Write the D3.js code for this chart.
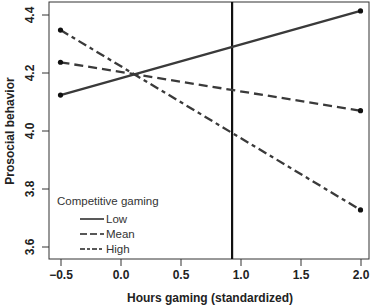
<!DOCTYPE html>
<html>
<head>
<meta charset="utf-8">
<script src="https://cdn.jsdelivr.net/npm/d3@7"></script>
<style>
	body { margin: 0; background: #fff; }
	text { font-family: "Liberation Sans", Arial, sans-serif; }
</style>
</head>
<body>
<svg id="chart"></svg>
<script>
// values
var groups = ['Low', 'Mean', 'High'];
var hours = [-0.5, 2.0];
var lowVals = [4.124, 4.414];
var meanVals = [4.237, 4.070];
var highVals = [4.348, 3.728];
var xTicks = [-0.5, 0.0, 0.5, 1.0, 1.5, 2.0];
var yTicks = [3.6, 3.8, 4.0, 4.2, 4.4];
var cutoff = 0.93;

function makeChart() {
	let w = 374;
	let h = 306;
	let left = 49, right = 369, top = 2, bottom = 259;

	let chart = d3.select('#chart')
		.attr('width', w)
		.attr('height', h);

	let x = d3.scaleLinear().domain([-0.5, 2.0]).range([60.5, 360.5]);
	let y = d3.scaleLinear().domain([3.6, 4.4]).range([247, 15]);

	var dashes = { Low: null, Mean: '9,5', High: '9,4,4,4' };
	var series = [
		{ name: 'Low', vals: lowVals },
		{ name: 'Mean', vals: meanVals },
		{ name: 'High', vals: highVals }
	];

	// box
	chart.append('rect')
		.attr('x', left)
		.attr('y', top)
		.attr('width', right - left)
		.attr('height', bottom - top)
		.style('fill', 'none')
		.style('stroke', '#333')
		.style('stroke-width', 1);

	// x axis
	let xAxis = chart.append('g')
		.attr('transform', 'translate(0,' + bottom + ')')
		.call(d3.axisBottom(x).tickValues(xTicks).tickFormat(d3.format('.1f')).tickSize(7).tickPadding(4));
	xAxis.select('.domain').remove();
	xAxis.selectAll('line').style('stroke', '#333');
	xAxis.selectAll('text')
		.style('font-size', '12px')
		.style('font-weight', 'bold')
		.style('fill', '#222');

	// y axis
	let yAxis = chart.append('g')
		.attr('transform', 'translate(' + left + ',0)')
		.call(d3.axisLeft(y).tickValues(yTicks).tickFormat(d3.format('.1f')).tickSize(7).tickPadding(4));
	yAxis.select('.domain').remove();
	yAxis.selectAll('line').style('stroke', '#333');
	yAxis.selectAll('text')
		.attr('x', null)
		.attr('dy', null)
		.attr('text-anchor', 'middle')
		.attr('transform', d => 'translate(-19,' + y(d) + ') rotate(-90)')
		.attr('y', 4)
		.style('font-size', '12px')
		.style('font-weight', 'bold')
		.style('fill', '#222');
	yAxis.selectAll('.tick').attr('transform', null);
	yAxis.selectAll('.tick line')
		.attr('y1', d => y(d))
		.attr('y2', d => y(d));

	// vertical reference line
	chart.append('line')
		.attr('x1', x(cutoff))
		.attr('x2', x(cutoff))
		.attr('y1', top)
		.attr('y2', bottom)
		.style('stroke', '#111')
		.style('stroke-width', 2.2);

	let line = d3.line()
		.x((d, i) => x(hours[i]))
		.y(d => y(d));

	chart.selectAll('.series')
		.data(series)
		.enter()
		.append('path')
		.classed('series', true)
		.attr('d', d => line(d.vals))
		.style('fill', 'none')
		.style('stroke', '#3a3a3a')
		.style('stroke-width', 2.3)
		.style('stroke-dasharray', d => dashes[d.name]);

	series.forEach(s => {
		chart.selectAll(null)
			.data(s.vals)
			.enter()
			.append('circle')
			.attr('cx', (d, i) => x(hours[i]))
			.attr('cy', d => y(d))
			.attr('r', 2.6)
			.style('fill', '#111');
	});

	// legend
	chart.append('text')
		.attr('x', 57)
		.attr('y', 205)
		.text('Competitive gaming')
		.style('font-size', '11.5px')
		.style('fill', '#333');

	let legend = chart.selectAll('.leg')
		.data(groups)
		.enter()
		.append('g')
		.attr('transform', (d, i) => 'translate(0,' + (219 + i * 15) + ')');
	legend.append('line')
		.attr('x1', 80)
		.attr('x2', 104)
		.style('stroke', '#222')
		.style('stroke-width', 1.5)
		.style('stroke-dasharray', d => d == 'Mean' ? '7,3' : d == 'High' ? '5,2,3,2' : null);
	legend.append('text')
		.attr('x', 106)
		.attr('y', 4)
		.text(d => d)
		.style('font-size', '11.5px')
		.style('fill', '#333');

	// axis titles
	chart.append('text')
		.attr('x', 210)
		.attr('y', 302)
		.attr('text-anchor', 'middle')
		.text('Hours gaming (standardized)')
		.style('font-size', '12px')
		.style('font-weight', 'bold')
		.style('fill', '#222');

	chart.append('text')
		.attr('transform', 'translate(14,131) rotate(-90)')
		.attr('text-anchor', 'middle')
		.text('Prosocial behavior')
		.style('font-size', '12px')
		.style('font-weight', 'bold')
		.style('fill', '#222');
}

window.onload = function () {
	makeChart();
}
</script>
</body>
</html>
